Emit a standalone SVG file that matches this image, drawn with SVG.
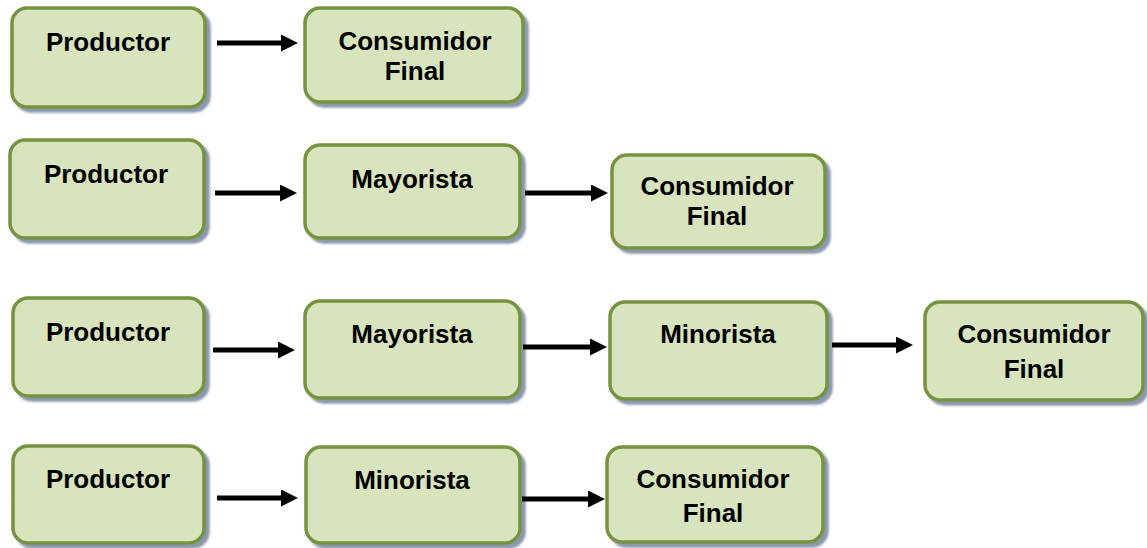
<svg xmlns="http://www.w3.org/2000/svg" width="1147" height="548" viewBox="0 0 1147 548">
  <style>
    .box { fill: #D7E4BD; stroke: #77933C; stroke-width: 3.5; filter: url(#shadow); }
    .lbl { font-family: "Liberation Sans", Arial, sans-serif; font-weight: bold; font-size: 26px; fill: #000; text-anchor: middle; }
    .arrow { stroke: #000; stroke-width: 5; fill: none; marker-end: url(#head); }
  </style>
  <defs>
    <filter id="shadow" x="-10%" y="-10%" width="125%" height="130%">
      <feGaussianBlur in="SourceAlpha" stdDeviation="1.2"/>
      <feOffset dx="4" dy="4" result="off"/>
      <feFlood flood-color="#7D8CA3" flood-opacity="0.9"/>
      <feComposite in2="off" operator="in"/>
      <feMerge>
        <feMergeNode/>
        <feMergeNode in="SourceGraphic"/>
      </feMerge>
    </filter>
    <marker id="head" viewBox="0 0 17 17" refX="2" refY="8.5" markerWidth="17" markerHeight="17" markerUnits="userSpaceOnUse" orient="auto">
      <path d="M0,0 L17,8.5 L0,17 Z" fill="#000"/>
    </marker>
  </defs>

  <!-- Row 1 -->
  <g id="r1-productor">
    <rect class="box" x="12" y="8" width="193" height="99" rx="15"/>
    <text class="lbl" x="108" y="51">Productor</text>
  </g>
  <g id="r1-consumidor">
    <rect class="box" x="305" y="8" width="218" height="94" rx="15"/>
    <text class="lbl" x="415" y="50">Consumidor</text>
    <text class="lbl" x="415" y="80">Final</text>
  </g>

  <!-- Row 2 -->
  <g id="r2-productor">
    <rect class="box" x="10" y="140" width="194" height="98" rx="15"/>
    <text class="lbl" x="106" y="183">Productor</text>
  </g>
  <g id="r2-mayorista">
    <rect class="box" x="305" y="145" width="215" height="93" rx="15"/>
    <text class="lbl" x="412" y="188">Mayorista</text>
  </g>
  <g id="r2-consumidor">
    <rect class="box" x="612" y="155" width="213" height="93" rx="15"/>
    <text class="lbl" x="717" y="195">Consumidor</text>
    <text class="lbl" x="717" y="225">Final</text>
  </g>

  <!-- Row 3 -->
  <g id="r3-productor">
    <rect class="box" x="13" y="298" width="191" height="98" rx="15"/>
    <text class="lbl" x="108" y="341">Productor</text>
  </g>
  <g id="r3-mayorista">
    <rect class="box" x="305" y="301" width="215" height="97" rx="15"/>
    <text class="lbl" x="412" y="343">Mayorista</text>
  </g>
  <g id="r3-minorista">
    <rect class="box" x="610" y="302" width="217" height="97" rx="15"/>
    <text class="lbl" x="718" y="343">Minorista</text>
  </g>
  <g id="r3-consumidor">
    <rect class="box" x="925" y="302" width="218" height="98" rx="15"/>
    <text class="lbl" x="1034" y="343">Consumidor</text>
    <text class="lbl" x="1034" y="378">Final</text>
  </g>

  <!-- Row 4 -->
  <g id="r4-productor">
    <rect class="box" x="13" y="446" width="191" height="97" rx="15"/>
    <text class="lbl" x="108" y="488">Productor</text>
  </g>
  <g id="r4-minorista">
    <rect class="box" x="306" y="447" width="214" height="96" rx="15"/>
    <text class="lbl" x="412" y="489">Minorista</text>
  </g>
  <g id="r4-consumidor">
    <rect class="box" x="607" y="447" width="216" height="95" rx="15"/>
    <text class="lbl" x="713" y="488">Consumidor</text>
    <text class="lbl" x="713" y="522">Final</text>
  </g>

  <!-- Connectors -->
  <g id="connectors">
    <line class="arrow" x1="217" y1="43" x2="283" y2="43"/>
    <line class="arrow" x1="215" y1="193" x2="282" y2="193"/>
    <line class="arrow" x1="525" y1="193" x2="593" y2="193"/>
    <line class="arrow" x1="213" y1="350" x2="280" y2="350"/>
    <line class="arrow" x1="523" y1="347" x2="592" y2="347"/>
    <line class="arrow" x1="832" y1="345" x2="898" y2="345"/>
    <line class="arrow" x1="217" y1="498" x2="283" y2="498"/>
    <line class="arrow" x1="522" y1="499" x2="590" y2="499"/>
  </g>
</svg>
